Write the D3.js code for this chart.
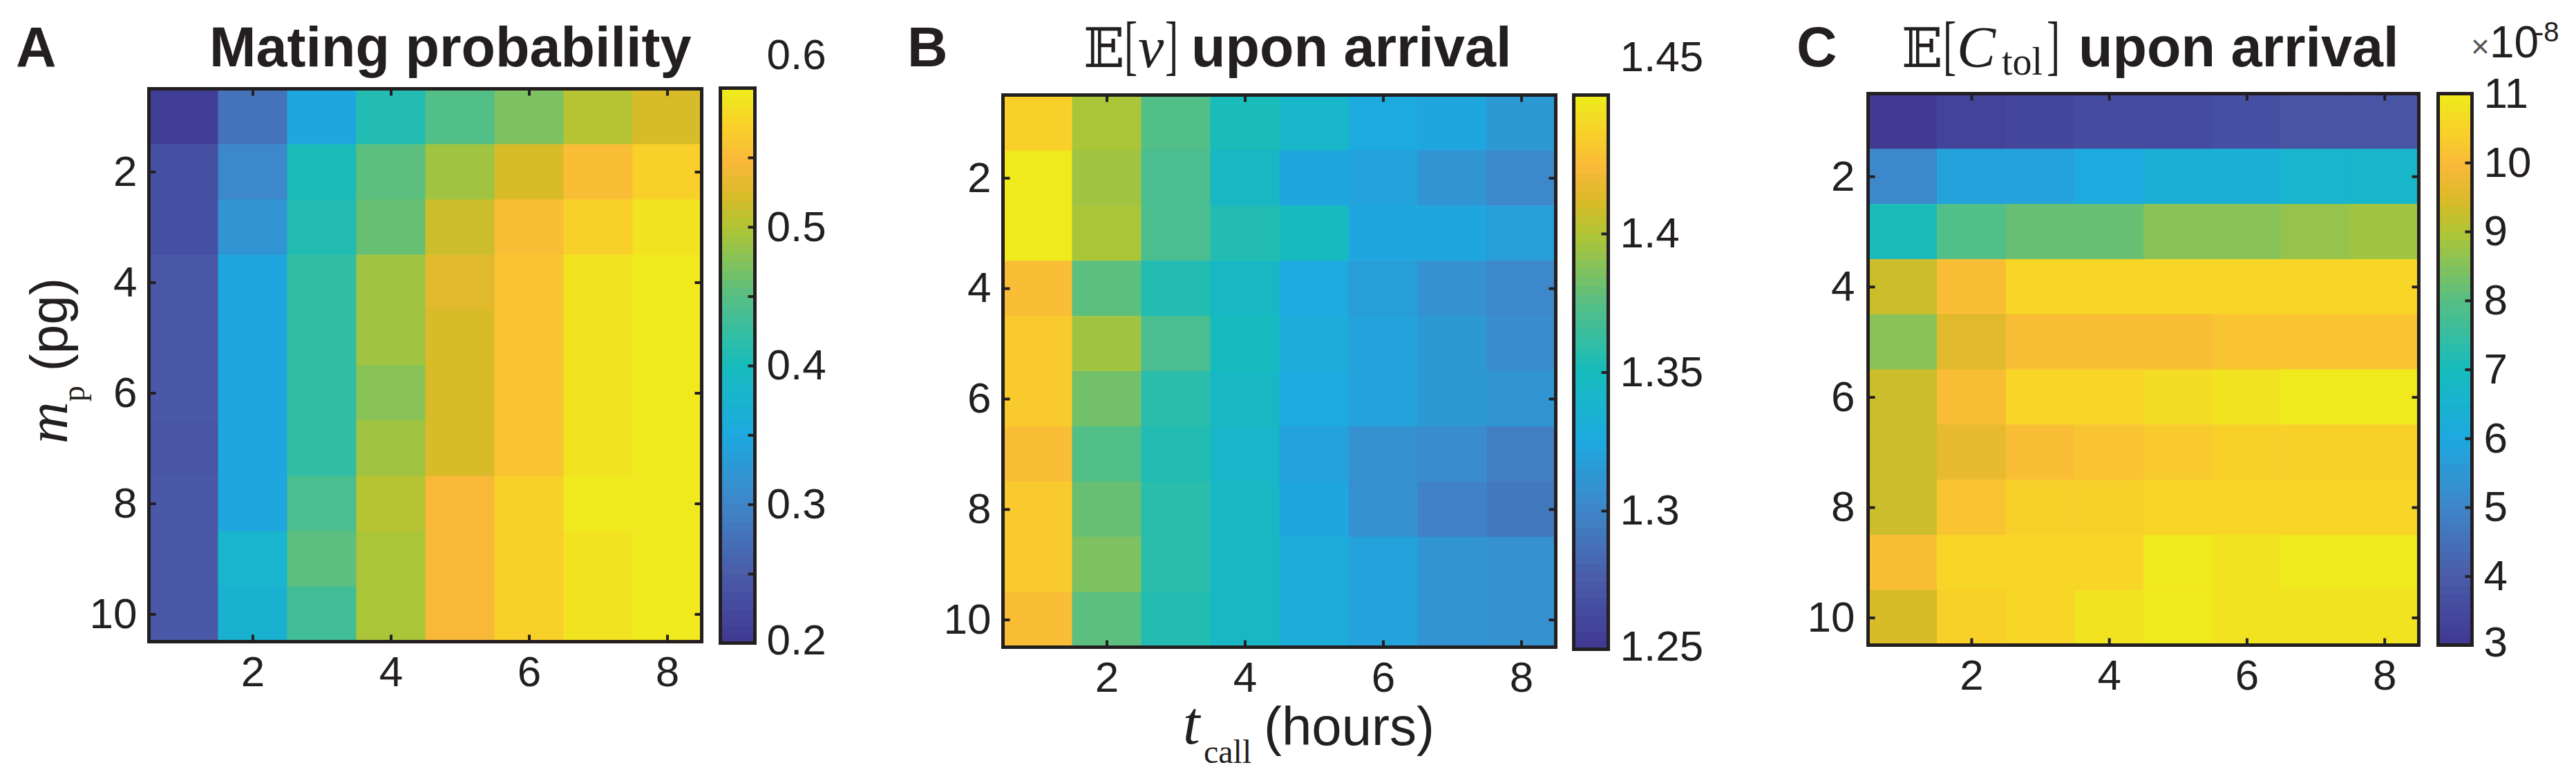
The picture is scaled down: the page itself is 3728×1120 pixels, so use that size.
<!DOCTYPE html>
<html><head><meta charset="utf-8">
<script src="https://cdn.jsdelivr.net/npm/d3@7"></script>
<style>body{margin:0;background:#fff} svg{display:block}</style>
</head><body>
<script>
// ---------------- data ----------------
const tCall = [1, 2, 3, 4, 5, 6, 7, 8];            // hours (columns)
const mP = [1, 2, 3, 4, 5, 6, 7, 8, 9, 10];          // pg (rows)
const xTickVals = [2, 4, 6, 8];
const yTickVals = [2, 4, 6, 8, 10];

// Panel A: mating probability, rows = m_p, cols = t_call
const matingProb = [
  [0.210, 0.278, 0.350, 0.410, 0.445, 0.470, 0.500, 0.520],
  [0.232, 0.305, 0.400, 0.452, 0.490, 0.524, 0.550, 0.574],
  [0.235, 0.320, 0.410, 0.460, 0.513, 0.550, 0.572, 0.588],
  [0.245, 0.345, 0.420, 0.490, 0.530, 0.562, 0.588, 0.596],
  [0.245, 0.345, 0.420, 0.490, 0.524, 0.562, 0.588, 0.596],
  [0.245, 0.345, 0.420, 0.480, 0.524, 0.562, 0.588, 0.596],
  [0.242, 0.345, 0.420, 0.490, 0.524, 0.560, 0.588, 0.596],
  [0.245, 0.348, 0.440, 0.502, 0.545, 0.575, 0.598, 0.596],
  [0.248, 0.375, 0.450, 0.498, 0.545, 0.575, 0.592, 0.598],
  [0.248, 0.370, 0.435, 0.498, 0.545, 0.575, 0.592, 0.596]
];
// Panel B: E[v] upon arrival
const speedArrival = [
  [1.437, 1.400, 1.372, 1.350, 1.343, 1.326, 1.325, 1.315],
  [1.448, 1.396, 1.370, 1.346, 1.325, 1.320, 1.312, 1.300],
  [1.448, 1.399, 1.371, 1.354, 1.347, 1.325, 1.323, 1.316],
  [1.425, 1.377, 1.355, 1.346, 1.327, 1.318, 1.308, 1.303],
  [1.432, 1.396, 1.369, 1.347, 1.330, 1.319, 1.315, 1.304],
  [1.432, 1.384, 1.357, 1.346, 1.326, 1.320, 1.315, 1.310],
  [1.428, 1.372, 1.355, 1.343, 1.319, 1.309, 1.306, 1.295],
  [1.432, 1.380, 1.357, 1.346, 1.323, 1.309, 1.297, 1.293],
  [1.432, 1.386, 1.358, 1.346, 1.330, 1.319, 1.312, 1.307],
  [1.427, 1.377, 1.355, 1.346, 1.330, 1.319, 1.312, 1.307]
];
// Panel C: E[C_tol] upon arrival (x 1e-8)
const ctolArrival = [
  [3.05, 3.30, 3.45, 3.50, 3.60, 3.70, 3.75, 3.85],
  [5.00, 5.75, 5.80, 6.00, 6.30, 6.35, 6.60, 6.65],
  [7.10, 7.90, 8.15, 8.15, 8.55, 8.55, 8.65, 8.80],
  [9.30, 10.00, 10.50, 10.55, 10.50, 10.50, 10.55, 10.55],
  [8.60, 9.50, 10.05, 10.05, 10.00, 10.20, 10.20, 10.20],
  [9.30, 10.10, 10.50, 10.55, 10.70, 10.80, 10.90, 10.90],
  [9.30, 9.65, 10.00, 10.20, 10.30, 10.45, 10.45, 10.45],
  [9.35, 10.15, 10.45, 10.45, 10.50, 10.50, 10.50, 10.50],
  [10.00, 10.50, 10.50, 10.60, 10.90, 10.80, 10.90, 10.90],
  [9.40, 10.45, 10.50, 10.75, 10.90, 10.80, 10.80, 10.75]
];

// colorbar ticks / labels
const cbarATicks = [0.2, 0.25, 0.3, 0.35, 0.4, 0.45, 0.5, 0.55, 0.6];
const cbarALabels = [0.2, 0.3, 0.4, 0.5, 0.6];
const cbarBTicks = [1.25, 1.3, 1.35, 1.4, 1.45];
const cbarBLabels = [1.25, 1.3, 1.35, 1.4, 1.45];
const cbarCTicks = [3, 4, 5, 6, 7, 8, 9, 10, 11];
const cbarCLabels = [3, 4, 5, 6, 7, 8, 9, 10, 11];

// ---------------- style ----------------
const INK = '#231f20';
const SANS = "'Liberation Sans', Arial, Helvetica, sans-serif";
const SERIF = "'Liberation Serif', 'Times New Roman', serif";
const cmapPos = [0, 0.125, 0.25, 0.375, 0.5, 0.625, 0.75, 0.8125, 0.875, 0.9375, 1];
const cmapCol = ['#403A93', '#4A5DAA', '#3E87C9', '#1DA9E0', '#16BCBE', '#55BE85',
                 '#AEC535', '#D9BA28', '#F9B93A', '#F9D02A', '#F0E91E'];
const cmapCont = d3.scaleLinear().domain(cmapPos).range(cmapCol).interpolate(d3.interpolateRgb).clamp(true);
const NLEV = 64;
const cmap = t => {
  const k = Math.max(0, Math.min(NLEV - 1, Math.floor(t * NLEV)));
  return cmapCont(k / (NLEV - 1));
};

const svg = d3.select('body').append('svg')
  .attr('width', 3728).attr('height', 1120)
  .style('background', '#fff');

function drawPanel(p) {
  const g = svg.append('g');
  const x = d3.scaleLinear().domain([0.5, 8.5]).range([p.x0, p.x1]);
  const y = d3.scaleLinear().domain([0.5, 10.5]).range([p.y0, p.y1]);
  const norm = d3.scaleLinear().domain(p.cdomain).range([0, 1]).clamp(true);

  const cells = p.values.flatMap((row, i) => row.map((v, j) => ({ t: tCall[j], m: mP[i], v })));
  g.append('g').selectAll('rect').data(cells).join('rect')
    .attr('x', d => x(d.t - 0.5))
    .attr('y', d => y(d.m - 0.5))
    .attr('width', d => x(d.t + 0.5) - x(d.t - 0.5) + 0.6)
    .attr('height', d => y(d.m + 0.5) - y(d.m - 0.5) + 0.6)
    .attr('fill', d => cmap(norm(d.v)));

  const styleAxis = (sel, fs) => {
    sel.select('.domain').remove();
    sel.selectAll('.tick line').attr('stroke', INK).attr('stroke-width', 4);
    sel.selectAll('.tick text').attr('fill', INK)
      .style('font-family', SANS).style('font-size', fs + 'px');
  };
  const TK = 10;
  g.append('g').attr('transform', `translate(0,${p.y1})`)
    .call(d3.axisBottom(x).tickValues(xTickVals).tickSizeInner(-TK).tickSizeOuter(0).tickPadding(p.xpad))
    .call(s => styleAxis(s, 62));
  g.append('g').attr('transform', `translate(0,${p.y0})`)
    .call(d3.axisTop(x).tickValues(xTickVals).tickSizeInner(-TK).tickSizeOuter(0).tickFormat(''))
    .call(s => styleAxis(s, 62));
  g.append('g').attr('transform', `translate(${p.x0},0)`)
    .call(d3.axisLeft(y).tickValues(yTickVals).tickSizeInner(-TK).tickSizeOuter(0).tickPadding(p.ypad))
    .call(s => styleAxis(s, 62));
  g.append('g').attr('transform', `translate(${p.x1},0)`)
    .call(d3.axisRight(y).tickValues(yTickVals).tickSizeInner(-TK).tickSizeOuter(0).tickFormat(''))
    .call(s => styleAxis(s, 62));

  g.append('rect').attr('x', p.x0).attr('y', p.y0)
    .attr('width', p.x1 - p.x0).attr('height', p.y1 - p.y0)
    .attr('fill', 'none').attr('stroke', INK).attr('stroke-width', 5);

  // colorbar
  const cy = d3.scaleLinear().domain(p.cdomain).range([p.cy1, p.cy0]);
  const levels = d3.range(NLEV);
  const span = p.cdomain[1] - p.cdomain[0];
  g.append('g').selectAll('rect').data(levels).join('rect')
    .attr('x', p.cx0).attr('width', p.cx1 - p.cx0)
    .attr('y', k => cy(p.cdomain[0] + (k + 1) / NLEV * span))
    .attr('height', k => cy(p.cdomain[0] + k / NLEV * span) - cy(p.cdomain[0] + (k + 1) / NLEV * span) + 0.6)
    .attr('fill', k => cmapCont(k / (NLEV - 1)));
  const labelSet = new Set(p.clabels.map(v => +v.toFixed(4)));
  const cax = g.append('g').attr('transform', `translate(${p.cx1},0)`)
    .call(d3.axisRight(cy).tickValues(p.cticks).tickSizeInner(-TK).tickSizeOuter(0).tickPadding(17)
      .tickFormat(v => labelSet.has(+v.toFixed(4)) ? d3.format(p.cfmt)(v) : ''))
    .call(s => styleAxis(s, 62));
  cax.selectAll('.tick line').filter(v => v === p.cdomain[0] || v === p.cdomain[1]).remove();
  if (p.topLift) {
    cax.selectAll('.tick text').filter(v => v === p.cdomain[1])
      .attr('transform', `translate(0,${-p.topLift})`);
  }
  cax.selectAll('.tick text').filter(v => v === p.cdomain[0])
    .attr('transform', 'translate(0,-4)');
  g.append('rect').attr('x', p.cx0).attr('y', p.cy0)
    .attr('width', p.cx1 - p.cx0).attr('height', p.cy1 - p.cy0)
    .attr('fill', 'none').attr('stroke', INK).attr('stroke-width', 5);
  return g;
}

drawPanel({ values: matingProb, cdomain: [0.2, 0.6], cticks: cbarATicks, clabels: cbarALabels, cfmt: '.1f',
  x0: 215.5, x1: 1015.5, y0: 128.5, y1: 928.5, xpad: 20, ypad: 17,
  cx0: 1042.5, cx1: 1092.5, cy0: 127.5, cy1: 930.5, topLift: 48 });
drawPanel({ values: speedArrival, cdomain: [1.25, 1.45], cticks: cbarBTicks, clabels: cbarBLabels, cfmt: '',
  x0: 1451.5, x1: 2251.5, y0: 137.5, y1: 936.5, xpad: 20, ypad: 17,
  cx0: 2277.5, cx1: 2327.5, cy0: 137.5, cy1: 939.5, topLift: 55 });
drawPanel({ values: ctolArrival, cdomain: [3, 11], cticks: cbarCTicks, clabels: cbarCLabels, cfmt: 'd',
  x0: 2703.5, x1: 3500.5, y0: 135.5, y1: 933.5, xpad: 20, ypad: 19,
  cx0: 3528.5, cx1: 3577.5, cy0: 135.5, cy1: 933.5, topLift: 0 });

// ---------------- texts ----------------
const txt = (x, y, s, o = {}) => svg.append('text').attr('x', x).attr('y', y).text(s)
  .attr('fill', o.fill || INK)
  .style('font-family', o.family || SANS)
  .style('font-size', (o.size || 62) + 'px')
  .style('font-weight', o.weight || 'normal')
  .style('font-style', o.style || 'normal');
// narrow (math-style) bracket
const bracket = (x, y, s) => svg.append('text')
  .attr('transform', `translate(${x},${y}) scale(0.6,1)`).text(s)
  .attr('fill', INK).style('font-family', SERIF).style('font-size', '96px');

// panel letters
txt(23, 96, 'A', { size: 81, weight: 'bold' });
txt(1313, 96, 'B', { size: 81, weight: 'bold' });
txt(2600, 96, 'C', { size: 81, weight: 'bold' });

// titles
txt(303, 96, 'Mating probability', { size: 81, weight: 'bold' });

const BB = "'DejaVu Serif', 'DejaVu Sans', serif";
txt(1568, 97, '\u{1D53C}', { size: 78, family: BB });
bracket(1627, 97, '[');
txt(1647, 97, 'v', { size: 84, family: SERIF, style: 'italic' });
bracket(1686, 97, ']');
txt(1724, 96, 'upon arrival', { size: 81, weight: 'bold' });

txt(2752, 97, '\u{1D53C}', { size: 78, family: BB });
bracket(2812, 97, '[');
txt(2832, 97, 'C', { size: 84, family: SERIF, style: 'italic' });
txt(2897, 108, 'tol', { size: 56, family: SERIF });
bracket(2962, 97, ']');
txt(3008, 96, 'upon arrival', { size: 81, weight: 'bold' });

// colorbar C exponent
txt(3576, 83, '\u00D7', { size: 46, fill: '#555' });
txt(3603, 83, '10', { size: 64 });
txt(3668, 60, '-8', { size: 40 });

// y label (panel A)
const yl = svg.append('text').attr('transform', 'translate(97,642) rotate(-90)')
  .attr('fill', INK);
yl.append('tspan').text('m').style('font-family', SERIF).style('font-style', 'italic').style('font-size', '84px');
yl.append('tspan').text('p').attr('dy', 25).style('font-family', SERIF).style('font-size', '46px');
yl.append('tspan').text(' (pg)').attr('dy', -25).style('font-family', SANS).style('font-size', '76px');

// x label (panel B)
txt(1712, 1076, 't', { size: 88, family: SERIF, style: 'italic' });
txt(1742, 1104, 'call', { size: 48, family: SERIF });
txt(1829, 1078, '(hours)', { size: 78 });
</script>
</body></html>
